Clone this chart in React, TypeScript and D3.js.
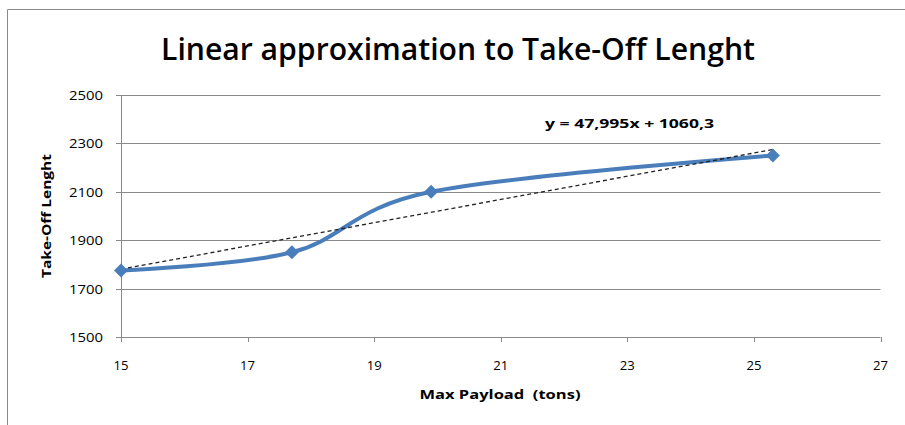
import React from "react";
import * as d3 from "d3";

const payload = [15, 17.7, 19.9, 25.3];
const takeoff = [1775, 1850, 2100, 2250];
const xTicks = [15, 17, 19, 21, 23, 25, 27];
const yTicks = [1500, 1700, 1900, 2100, 2300, 2500];
const slope = 47.995;
const intercept = 1060.3;
const titleText = "Linear approximation to Take-Off Lenght";
const eqText = "y = 47,995x + 1060,3";
const xTitle = "Max Payload  (tons)";
const yTitle = "Take-Off Lenght";

export default function App() {
  const W = 905, H = 425;
  const x = d3.scaleLinear().domain([15, 27]).range([121, 880.5]);
  const y = d3.scaleLinear().domain([1500, 2500]).range([337, 95]);
  const pts: [number, number][] = payload.map((p, i) => [x(p), y(takeoff[i])]);
  const line = d3.line().curve(d3.curveCardinal.tension(0))(pts) || "";
  const x0 = payload[0], x1 = payload[payload.length - 1];
  const font = "'Open Sans', 'Noto Sans', sans-serif";
  const grid = "#898989";
  return (
    <svg width={W} height={H} style={{ position: "absolute", left: 0, top: 0, background: "#fff" }}>
      <rect x={0} y={0} width={W} height={H} fill="#fff" />
      <path d={`M7.5,${H} V9.5 H${W}`} fill="none" stroke="#8a8a8a" strokeWidth={1} />
      <text x={458} y={60} textAnchor="middle" fontFamily={font} fontSize={30} fontWeight={600} fill="#000"
        textLength={594} lengthAdjust="spacingAndGlyphs">{titleText}</text>
      {yTicks.map((t) => (
        <g key={"y" + t}>
          <line x1={116} x2={x(27)} y1={Math.round(y(t)) + 0.5} y2={Math.round(y(t)) + 0.5} stroke={grid} strokeWidth={1} />
          <text x={103} y={y(t) + 5} textAnchor="end" fontFamily={font} fontSize={13} fill="#000"
            textLength={34} lengthAdjust="spacingAndGlyphs">{t}</text>
        </g>
      ))}
      <line x1={121.5} x2={121.5} y1={95} y2={337} stroke={grid} strokeWidth={1} />
      {xTicks.map((t) => (
        <g key={"x" + t}>
          <line x1={Math.round(x(t)) + 0.5} x2={Math.round(x(t)) + 0.5} y1={337} y2={342} stroke={grid} strokeWidth={1} />
          <text x={x(t)} y={370} textAnchor="middle" fontFamily={font} fontSize={13} fill="#000"
            textLength={15} lengthAdjust="spacingAndGlyphs">{t}</text>
        </g>
      ))}
      <text x={500} y={399} textAnchor="middle" fontFamily={font} fontSize={13} fontWeight="bold" fill="#000"
        style={{ whiteSpace: "pre" }} textLength={161} lengthAdjust="spacingAndGlyphs">{xTitle}</text>
      <text transform={`translate(51,216) rotate(-90)`} textAnchor="middle" fontFamily={font} fontSize={13}
        fontWeight="bold" fill="#000" textLength={124} lengthAdjust="spacingAndGlyphs">{yTitle}</text>
      <path d={line} fill="none" stroke="#4A7EBB" strokeWidth={4} strokeLinejoin="round" />
      <line x1={x(x0)} y1={y(slope * x0 + intercept)} x2={x(x1)} y2={y(slope * x1 + intercept)}
        stroke="#222" strokeWidth={1.3} strokeDasharray="4,3" />
      {pts.map(([px, py], i) => (
        <path key={"m" + i} d={`M${px},${py - 7} L${px + 7},${py} L${px},${py + 7} L${px - 7},${py} Z`} fill="#4A7EBB" />
      ))}
      <text x={545} y={128} fontFamily={font} fontSize={13} fontWeight="bold" fill="#000"
        textLength={169} lengthAdjust="spacingAndGlyphs">{eqText}</text>
    </svg>
  );
}
